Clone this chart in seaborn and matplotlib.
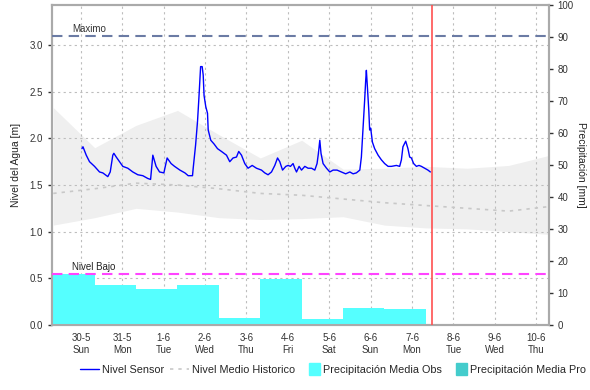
import seaborn as sns
import matplotlib.pyplot as plt
import matplotlib.transforms as mtransforms
from matplotlib.lines import Line2D
from matplotlib.patches import Patch, Rectangle
from matplotlib.legend_handler import HandlerPatch
from matplotlib.ticker import MultipleLocator
import pandas as pd

# Nivel del sensor (horas desde 30-5 00:00, metros)
horas_sensor = [0.6, 1.2, 3.1, 5.0, 7.9, 10.8, 12.7, 15.6, 17.0, 18.5, 19.1, 20.5, 22.4,
                24.3, 27.2, 30.1, 33.0, 35.9, 38.8, 40.4, 41.7, 43.6, 45.6, 48.1, 50.0,
                52.3, 54.3, 57.4, 60.3, 62.2, 64.7, 65.1, 66.5, 67.6, 68.4, 69.4, 70.3,
                70.9, 71.4, 72.4, 73.4, 73.8, 75.3, 77.2, 79.2, 81.5, 84.4, 86.3, 88.2,
                90.2, 91.5, 93.1, 95.0, 96.9, 99.3, 101.8, 104.7, 106.6, 108.5, 110.5,
                112.4, 114.0, 115.3, 116.9, 118.8, 120.1, 121.5, 123.0, 124.0, 125.0,
                126.5, 127.9, 129.8, 131.7, 133.7, 135.6, 136.9, 137.7, 138.5, 139.2,
                140.4, 142.4, 144.3, 146.2, 148.5, 151.0, 153.5, 155.9, 157.8, 159.7,
                161.7, 162.6, 163.6, 164.5, 165.1, 165.5, 166.1, 166.9, 167.4, 168.0,
                169.0, 170.3, 172.3, 174.2, 176.1, 178.1, 180.0, 182.9, 184.8, 185.8,
                186.7, 188.3, 189.6, 190.6, 191.6, 192.9, 194.5, 196.0, 197.4, 199.3,
                201.2, 202.6]
nivel_sensor = [1.89, 1.91, 1.82, 1.75, 1.70, 1.64, 1.63, 1.59, 1.64, 1.82, 1.84, 1.80, 1.75,
                1.70, 1.68, 1.64, 1.61, 1.60, 1.57, 1.56, 1.82, 1.70, 1.64, 1.63, 1.79,
                1.73, 1.70, 1.66, 1.63, 1.60, 1.60, 1.68, 1.93, 2.18, 2.43, 2.77, 2.77,
                2.68, 2.46, 2.34, 2.27, 2.09, 1.98, 1.94, 1.89, 1.86, 1.82, 1.75, 1.79,
                1.80, 1.86, 1.82, 1.73, 1.68, 1.71, 1.68, 1.66, 1.63, 1.61, 1.64,
                1.71, 1.79, 1.75, 1.66, 1.70, 1.71, 1.70, 1.73, 1.68, 1.64,
                1.70, 1.66, 1.70, 1.68, 1.68, 1.66, 1.73, 1.84, 1.98, 1.84,
                1.73, 1.68, 1.64, 1.66, 1.66, 1.64, 1.62, 1.64, 1.62, 1.63,
                1.66, 1.80, 2.12, 2.41, 2.62, 2.73, 2.55, 2.30, 2.09, 2.11,
                1.96, 1.89, 1.82, 1.77, 1.73, 1.70, 1.70, 1.71, 1.70, 1.77,
                1.91, 1.97, 1.89, 1.80, 1.79, 1.73, 1.70, 1.71, 1.70, 1.68,
                1.66, 1.64]

# Historico (puntos diarios a las 8:00)
horas_historico = [-16, 8, 32, 56, 80, 104, 128, 152, 176, 200, 224, 248, 272]
historico_max = [2.33, 1.90, 2.14, 2.30, 2.04, 1.79, 1.98, 1.67, 1.68, 1.70, 1.68, 1.71, 1.82]
historico_min = [1.07, 1.15, 1.25, 1.21, 1.15, 1.13, 1.14, 1.16, 1.07, 1.04, 1.03, 1.00, 0.97]
historico_medio = [1.41, 1.46, 1.52, 1.50, 1.46, 1.41, 1.39, 1.35, 1.31, 1.28, 1.25, 1.22, 1.27]

# Precipitacion diaria observada (inicio del periodo en horas, mm)
horas_precip = [-16, 8, 32, 56, 80, 104, 128, 152, 176]
precip_obs = [15.9, 12.5, 11.2, 12.5, 2.1, 14.3, 1.8, 5.4, 5.1]

dias = ['30-5\nSun', '31-5\nMon', '1-6\nTue', '2-6\nWed', '3-6\nThu', '4-6\nFri',
        '5-6\nSat', '6-6\nSun', '7-6\nMon', '8-6\nTue', '9-6\nWed', '10-6\nThu']
nivel_maximo = 3.1
nivel_bajo = 0.55
hora_actual = 203.3

df_sensor = pd.DataFrame({'hora': horas_sensor, 'nivel': nivel_sensor})
df_hist = pd.DataFrame({'hora': horas_historico, 'max': historico_max,
                        'min': historico_min, 'medio': historico_medio})

sns.set_style("white")
plt.rcParams['font.family'] = ['Liberation Sans', 'DejaVu Sans']

fig = plt.figure(figsize=(5.9, 3.9), dpi=100)
ax = fig.add_axes([0.088, 0.167, 0.842, 0.82])
ax2 = ax.twinx()

# Banda historica y media
ax.fill_between(df_hist['hora'], df_hist['min'], df_hist['max'], color='#EFEFEF', lw=0, zorder=0)
sns.lineplot(x='hora', y='medio', data=df_hist, ax=ax, color='#C8C8C8', lw=1.2,
             linestyle=(0, (2, 3)), zorder=2)
sns.lineplot(x='hora', y='nivel', data=df_sensor, ax=ax, color='#0000FF', lw=1.0, zorder=3)

ax.set_xlim(-16.8, 271.2)
ax.set_ylim(0, 3.43)
ax.set_yticks([0, 0.5, 1.0, 1.5, 2.0, 2.5, 3.0])
ax.set_yticklabels(['0.0', '0.5', '1.0', '1.5', '2.0', '2.5', '3.0'])
ax.set_xticks([24 * i for i in range(len(dias))])
ax.set_xticklabels(dias)
ax.xaxis.set_minor_locator(MultipleLocator(2))
ax.grid(True, which='major', linestyle=(0, (2, 3)), color='#BDBDBD', lw=0.8)
ax.set_axisbelow(True)
ax.set_xlabel('')
ax.set_ylabel('Nivel del Agua [m]', fontsize=7.5, color='#222222', labelpad=6)

# Precipitacion en el eje derecho
ax2.bar(horas_precip, precip_obs, width=24, align='edge', color='#55FFFF', lw=0, zorder=1)
ax2.set_ylim(0, 100)
ax2.set_yticks(range(0, 101, 10))
ax2.set_ylabel('Precipitación [mm]', fontsize=7.5, color='#222222', rotation=270, labelpad=9)
ax2.grid(False)

# Lineas de referencia (en metros, dibujadas encima de las barras)
trans = mtransforms.blended_transform_factory(ax.transAxes, ax.transData)
ax2.plot([0, 1], [nivel_maximo, nivel_maximo], transform=trans, color='#6B7BA4',
         lw=1.5, linestyle=(0, (5, 3)), zorder=4)
ax2.plot([0, 1], [nivel_bajo, nivel_bajo], transform=trans, color='#FF44FF',
         lw=1.5, linestyle=(0, (5, 3)), zorder=4)
ax2.text(0.04, nivel_maximo + 0.02, 'Maximo', transform=trans, fontsize=7, color='#333333', va='bottom')
ax2.text(0.04, nivel_bajo + 0.02, 'Nivel Bajo', transform=trans, fontsize=7, color='#222222', va='bottom')
ax2.axvline(hora_actual, color='#FF5050', lw=1.2, zorder=5)

for a in (ax, ax2):
    for s in a.spines.values():
        s.set_color('#AAAAAA')
        s.set_linewidth(1.5)
    a.tick_params(axis='both', which='major', labelsize=7, colors='#333333', length=3,
                  width=1, direction='out')
    a.tick_params(axis='both', which='minor', length=2, width=0.6, colors='#888888')
ax.tick_params(axis='x', pad=3)


def caja_estrecha(legend, orig_handle, xdescent, ydescent, width, height, fontsize):
    return Rectangle((width - 8 - xdescent, -ydescent - 1.5), 8, height + 3)


handles = [Line2D([], [], color='#0000FF', lw=1.0),
           Line2D([], [], color='#C8C8C8', lw=1.2, linestyle=(0, (2, 3))),
           Patch(color='#55FFFF'),
           Patch(color='#44CCCC')]
labels = ['Nivel Sensor', 'Nivel Medio Historico', 'Precipitación Media Obs', 'Precipitación Media Pro']
fig.legend(handles, labels, loc='center', bbox_to_anchor=(0.565, 0.052), ncol=4, frameon=False,
           fontsize=7.8, handlelength=1.7, handletextpad=0.3, columnspacing=0.6,
           handler_map={Patch: HandlerPatch(patch_func=caja_estrecha)})

fig.savefig('out.png', dpi=100)
